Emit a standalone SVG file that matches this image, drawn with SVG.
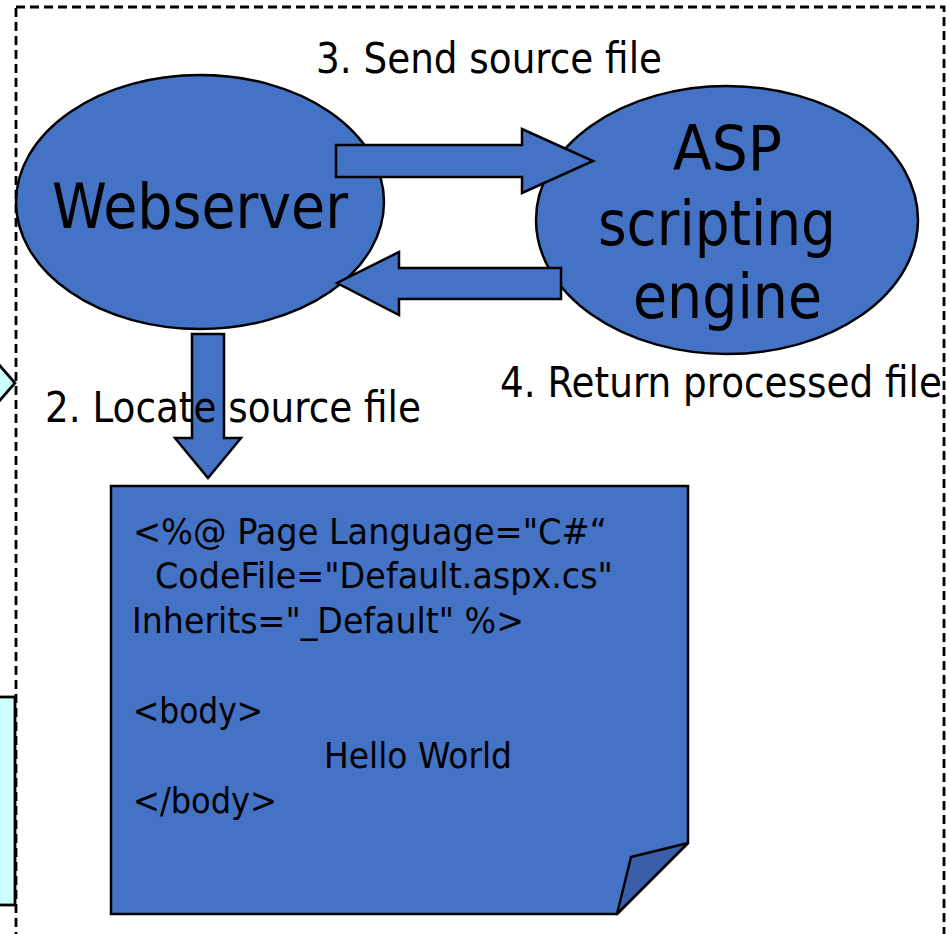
<svg xmlns="http://www.w3.org/2000/svg" width="947" height="934" viewBox="0 0 947 934">
<style>
.bg{fill:#ffffff}
.frame{fill:none;stroke:#000;stroke-width:2.8;stroke-dasharray:9,5}
.cyan{fill:#ccffff;stroke:#000;stroke-width:2.8}
.blue{fill:#4472c4;stroke:#000;stroke-width:2.5}
.fold{fill:#3a5ea8;stroke:#000;stroke-width:2.5;stroke-linejoin:round}
text{font-family:"DejaVu Sans Condensed","DejaVu Sans",sans-serif;fill:#000}
.big{font-size:62px}
.lbl{font-size:42px}
.code{font-size:35px}
</style>
<rect class="bg" x="0" y="0" width="947" height="934"/>
<rect class="frame" x="16" y="7" width="928" height="960"/>
<g id="left-shapes">
<polygon class="cyan" points="-20,343 15,383 -20,423"/>
<rect class="cyan" x="-20" y="697" width="35" height="208"/>
</g>
<g id="webserver">
<ellipse class="blue" cx="200" cy="202" rx="184" ry="127"/>
<text class="big" x="52" y="228" textLength="296" lengthAdjust="spacingAndGlyphs">Webserver</text>
</g>
<g id="asp-engine">
<ellipse class="blue" cx="727" cy="220" rx="191" ry="134"/>
<text class="big" x="673" y="170" textLength="109" lengthAdjust="spacingAndGlyphs">ASP</text>
<text class="big" x="598" y="245" textLength="238" lengthAdjust="spacingAndGlyphs">scripting</text>
<text class="big" x="633" y="318" textLength="189" lengthAdjust="spacingAndGlyphs">engine</text>
</g>
<g id="connectors">
<polygon class="blue" points="336,145 522,145 522,129 593,161 522,193 522,177 336,177"/>
<polygon class="blue" points="561,268 399,268 399,252 337,283 399,315 399,299 561,299"/>
<polygon class="blue" points="192,334 224,334 224,438 241,438 208,478 175,438 192,438"/>
</g>
<g id="labels">
<text class="lbl" x="316" y="73" textLength="346" lengthAdjust="spacingAndGlyphs">3. Send source file</text>
<text class="lbl" x="500" y="397" textLength="442" lengthAdjust="spacingAndGlyphs">4. Return processed file</text>
<text class="lbl" x="45" y="422" textLength="376" lengthAdjust="spacingAndGlyphs">2. Locate source file</text>
</g>
<g id="source-file">
<polygon class="blue" points="111,486 688,486 688,843 617,914 111,914"/>
<polygon class="fold" points="688,843 631,857 617,914"/>
<text class="code" x="133" y="544" textLength="474" lengthAdjust="spacingAndGlyphs">&lt;%@ Page Language="C#“</text>
<text class="code" x="155" y="588" textLength="458" lengthAdjust="spacingAndGlyphs">CodeFile="Default.aspx.cs"</text>
<text class="code" x="132" y="633" textLength="392" lengthAdjust="spacingAndGlyphs">Inherits="_Default" %&gt;</text>
<text class="code" x="133" y="723" textLength="130" lengthAdjust="spacingAndGlyphs">&lt;body&gt;</text>
<text class="code" x="324" y="768" textLength="188" lengthAdjust="spacingAndGlyphs">Hello World</text>
<text class="code" x="133" y="813" textLength="144" lengthAdjust="spacingAndGlyphs">&lt;/body&gt;</text>
</g>
</svg>
